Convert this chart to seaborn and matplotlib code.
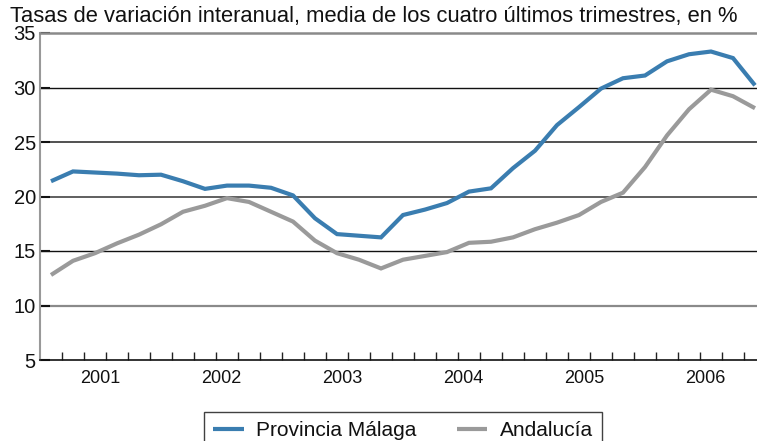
import numpy as np
import pandas as pd
import seaborn as sns
import matplotlib
matplotlib.use("Agg")
import matplotlib.pyplot as plt
from matplotlib.ticker import FixedLocator

# ---- data ----
malaga = [21.4, 22.3, 22.2, 22.1, 21.95, 22.0, 21.4, 20.7, 21.0, 21.0, 20.8, 20.1,
          18.0, 16.55, 16.4, 16.25, 18.3, 18.8, 19.4, 20.45, 20.75, 22.6, 24.2,
          26.55, 28.2, 29.9, 30.85, 31.1, 32.4, 33.05, 33.3, 32.7, 30.2]
andalucia = [12.8, 14.1, 14.8, 15.7, 16.5, 17.45, 18.6, 19.15, 19.85, 19.5, 18.6, 17.7,
             15.95, 14.8, 14.2, 13.4, 14.2, 14.55, 14.9, 15.75, 15.85, 16.25, 17.0,
             17.6, 18.3, 19.5, 20.35, 22.7, 25.6, 28.0, 29.8, 29.2, 28.1]
series_names = ["Provincia Málaga", "Andalucía"]
year_labels = ["2001", "2002", "2003", "2004", "2005", "2006"]
year_pos = [2.25, 7.75, 13.25, 18.75, 24.25, 29.75]
yticks = [5, 10, 15, 20, 25, 30, 35]
title = "Tasas de variación interanual, media de los cuatro últimos trimestres, en %"

n = len(malaga)
df = pd.DataFrame({
    "t": list(range(n)) * 2,
    "valor": malaga + andalucia,
    "serie": [series_names[0]] * n + [series_names[1]] * n,
})

sns.set_theme(style="white")
plt.rcParams["font.family"] = ["Liberation Sans", "DejaVu Sans"]

W, H = 757, 441
fig = plt.figure(figsize=(W / 100, H / 100), dpi=100)
ax = fig.add_axes([40 / W, 1 - 360 / H, 1 - 40 / W, (360 - 33) / H])

palette = {series_names[0]: "#3a7db0", series_names[1]: "#9a9a9a"}
sns.lineplot(data=df, x="t", y="valor", hue="serie", palette=palette,
             linewidth=3.0, ax=ax, legend=True)
for l in ax.get_lines():
    l.set_solid_joinstyle("miter")
    l.set_solid_capstyle("butt")

ax.set_xlim(-0.5, -0.5 + (W - 40) / 22)
ax.set_ylim(5, 35)
ax.set_yticks(yticks)
ax.set_yticklabels([str(v) for v in yticks], fontsize=14.5, color="#111111")
ax.set_xticks(year_pos)
ax.set_xticklabels(year_labels, fontsize=13, color="#111111")
ax.xaxis.set_minor_locator(FixedLocator([i + 0.5 for i in range(n - 1)]))
ax.tick_params(axis="x", which="major", length=0, pad=7)
ax.tick_params(axis="x", which="minor", direction="in", length=6, width=1, color="#222222", bottom=True)
ax.tick_params(axis="y", which="major", direction="in", length=7, width=1.5, color="#111111", pad=3, left=True)
ax.set_xlabel("")
ax.set_ylabel("")

ax.grid(axis="y", zorder=0)
gcolors = {10: ("#8a8a8a", 1.6), 15: ("#111111", 1.0), 20: ("#444444", 1.2),
           25: ("#333333", 1.2), 30: ("#111111", 1.0), 5: ("#111111", 0), 35: ("#888888", 0)}
for v, gl in zip(yticks, ax.get_ygridlines()):
    c, w = gcolors[v]
    gl.set_color(c)
    gl.set_linewidth(w)
    gl.set_linestyle("-")
ax.set_axisbelow(True)

ax.spines["right"].set_visible(False)
ax.spines["top"].set_color("#8a8a8a")
ax.spines["top"].set_linewidth(1.8)
ax.spines["left"].set_color("#999999")
ax.spines["left"].set_linewidth(1.5)
ax.spines["bottom"].set_color("#111111")
ax.spines["bottom"].set_linewidth(1.2)

fig.text(10 / W, 1 - 16.5 / H, title, fontsize=15.8, color="#111111", va="center", ha="left")

handles, labels = ax.get_legend_handles_labels()
ax.legend_.remove()
leg = fig.legend(handles, labels, loc="upper left",
                 bbox_to_anchor=(204 / W, 1 - 412 / H), ncol=2, frameon=True,
                 fontsize=15, handlelength=1.45, handletextpad=0.6, columnspacing=1.95,
                 borderpad=0.45, fancybox=False, borderaxespad=0)
leg.get_frame().set_edgecolor("#111111")
leg.get_frame().set_linewidth(1.0)
for t in leg.get_texts():
    t.set_color("#111111")

fig.savefig("out.png", dpi=100)
